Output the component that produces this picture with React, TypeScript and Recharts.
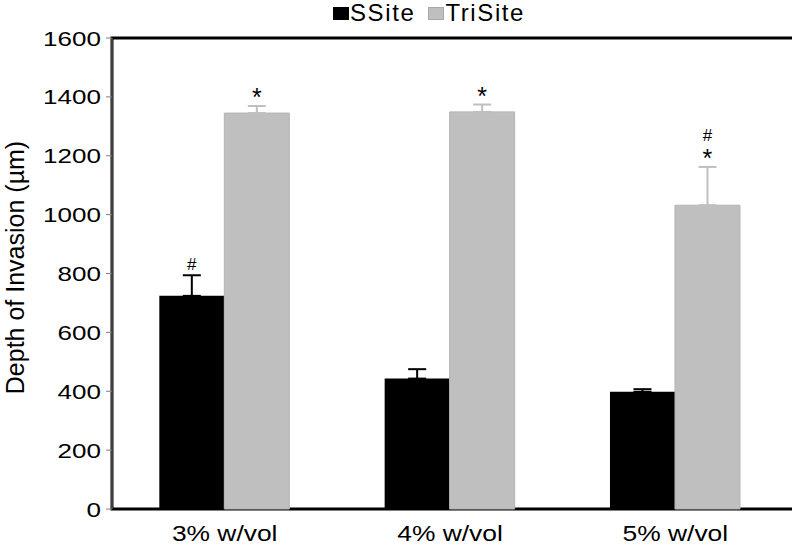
import * as React from "react";
import { BarChart, Bar, XAxis, YAxis, ErrorBar, LabelList, Legend, ReferenceArea, Label } from "recharts";

const FONT = '"Liberation Sans", Arial, sans-serif';

// values
const categories = ["3% w/vol", "4% w/vol", "5% w/vol"];
const ssiteValues = [724, 443, 398];
const ssiteErrors = [70, 32, 9];
const trisiteValues = [1345, 1349, 1032];
const trisiteErrors = [24, 25, 130];
// significance marks, listed bottom line first
const ssiteMarks: string[][] = [["#"], [], []];
const trisiteMarks: string[][] = [["*"], ["*"], ["*", "#"]];
const yTicks = [0, 200, 400, 600, 800, 1000, 1200, 1400, 1600];
const edgeTicks = [0, 1, 2, 3];

const SSITE_COLOR = "#000000";
const TRISITE_COLOR = "#bfbfbf";
const AXIS_COLOR = "#7f7f7f";

const data = categories.map((name, i) => ({
	name,
	ssite: ssiteValues[i],
	ssiteErr: [0, ssiteErrors[i]],
	trisite: trisiteValues[i],
	trisiteErr: [0, trisiteErrors[i]],
}));

const YTick = (props: any) => {
	const { x, y, payload } = props;
	return <text
		transform={`translate(${x},${y}) scale(1.24,1)`}
		textAnchor="end"
		dy="0.36em"
		fontSize={21}
		fontFamily={FONT}
		fill="#000"
	>{payload.value}</text>;
};

const CatTick = (props: any) => {
	const { x, y, payload } = props;
	return <text
		transform={`translate(${x},${y + 32}) scale(1.2,1)`}
		textAnchor="middle"
		fontSize={22}
		fontFamily={FONT}
		fill="#000"
	>{payload.value}</text>;
};

const markRenderer = (values: number[], errors: number[], marks: string[][]) => (props: any) => {
	const vb = props.viewBox || props;
	const { x, y, width, height } = vb;
	const i = props.index;
	if (i == null || !marks[i] || marks[i].length === 0) return null;
	const capY = y - errors[i] * height / values[i];
	let off = 0;
	return <g>
		{marks[i].map((m, k) => {
			const base = capY - off - (m === "*" ? 0 : 5);
			off += 21;
			return <text
				key={k}
				x={x + width / 2}
				y={base}
				textAnchor="middle"
				fontSize={m === "*" ? 25 : 17}
				fontFamily={FONT}
				fill="#000"
			>{m}</text>;
		})}
	</g>;
};

const renderLegend = (props: any) => {
	const items = props.payload || [];
	return <div style={{
		height: 26,
		display: "flex",
		alignItems: "center",
		paddingLeft: 333,
		fontFamily: FONT,
		fontSize: 24,
		letterSpacing: "1.6px",
		color: "#000",
	}}>
		{items.map((it: any) => <span key={it.value} style={{ display: "flex", alignItems: "center", marginRight: 13 }}>
			<span style={{
				display: "inline-block",
				width: 16,
				height: 13,
				background: it.color,
				border: it.color === TRISITE_COLOR ? "1px solid #a8a8a8" : "none",
				boxSizing: "border-box",
				marginRight: 1,
			}} />
			{it.value}
		</span>)}
	</div>;
};

const App: React.FC = () => {
	return <div style={{ position: "absolute", left: 0, top: 0, width: 792, height: 545, background: "#fff" }}>
		<BarChart
			width={792}
			height={545}
			data={data}
			margin={{ top: 12, right: 4, bottom: 0, left: 0 }}
			barCategoryGap="21%"
			barGap={0}
			style={{ fontFamily: FONT }}
		>
			<Legend verticalAlign="top" align="left" content={renderLegend} wrapperStyle={{ top: 0, left: 0, width: 792 }} />
			<XAxis
				xAxisId="edge"
				type="number"
				domain={[0, 3]}
				ticks={edgeTicks}
				tick={false}
				height={0}
				tickSize={7}
				stroke={AXIS_COLOR}
				allowDataOverflow
			/>
			<XAxis
				xAxisId="cat"
				dataKey="name"
				height={36}
				tickLine={false}
				axisLine={false}
				tickSize={0}
				tickMargin={0}
				tick={<CatTick />}
				interval={0}
			/>
			<YAxis
				width={112}
				domain={[0, 1600]}
				ticks={yTicks}
				interval={0}
				tickSize={6}
				tickMargin={5}
				stroke={AXIS_COLOR}
				tick={<YTick />}
			>
				<Label content={(p: any) => {
					const vb = p.viewBox;
					const cy = vb.y + vb.height / 2 - 6;
					return <text
						transform={`translate(15,${cy}) rotate(-90)`}
						textAnchor="middle"
						dominantBaseline="central"
						fontSize={25}
						fontFamily={FONT}
						fill="#000"
					>Depth of Invasion (µm)</text>;
				}} />
			</YAxis>
			<Bar dataKey="ssite" name="SSite" xAxisId="cat" fill={SSITE_COLOR} isAnimationActive={false}>
				<ErrorBar dataKey="ssiteErr" direction="y" width={9} stroke={SSITE_COLOR} strokeWidth={2} />
				<LabelList dataKey="ssite" content={markRenderer(ssiteValues, ssiteErrors, ssiteMarks)} />
			</Bar>
			<Bar dataKey="trisite" name="TriSite" xAxisId="cat" fill={TRISITE_COLOR} stroke="#b4b4b4" strokeWidth={1} isAnimationActive={false}>
				<ErrorBar dataKey="trisiteErr" direction="y" width={9} stroke={TRISITE_COLOR} strokeWidth={2} />
				<LabelList dataKey="trisite" content={markRenderer(trisiteValues, trisiteErrors, trisiteMarks)} />
			</Bar>
			<ReferenceArea
				xAxisId="edge"
				x1={0}
				x2={3}
				y1={0}
				y2={1600}
				fill="none"
				fillOpacity={0}
				stroke="#000"
				strokeWidth={3}
				ifOverflow="visible"
			/>
		</BarChart>
	</div>;
};

export default App;
